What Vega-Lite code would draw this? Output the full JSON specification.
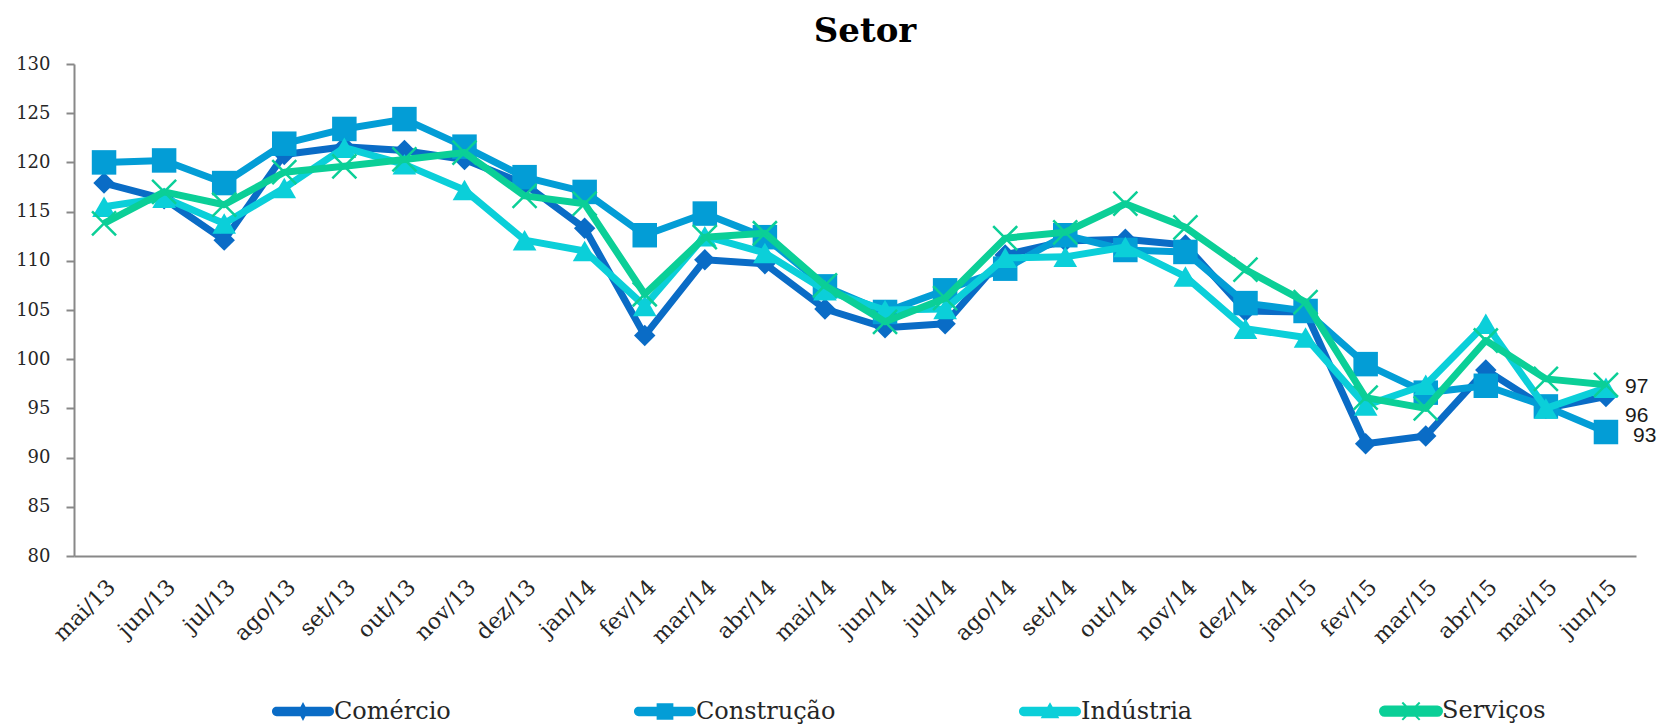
{
  "$schema": "https://vega.github.io/schema/vega-lite/v6.json",
  "width": 1562,
  "height": 492,
  "autosize": {"type": "none"},
  "padding": {"left": 74, "top": 64, "right": 25, "bottom": 169},
  "background": "white",
  "config": {"view": {"stroke": null}},
  "title": {"text": "Setor", "font": "DejaVu Serif", "fontSize": 34, "fontWeight": "bold", "color": "#000000", "anchor": "middle", "dx": 10, "offset": 6},
  "data": {"values": [
    {"mes": "mai/13", "setor": "Comércio", "valor": 117.9},
    {"mes": "jun/13", "setor": "Comércio", "valor": 116.3},
    {"mes": "jul/13", "setor": "Comércio", "valor": 112.1},
    {"mes": "ago/13", "setor": "Comércio", "valor": 120.8},
    {"mes": "set/13", "setor": "Comércio", "valor": 121.6},
    {"mes": "out/13", "setor": "Comércio", "valor": 121.2},
    {"mes": "nov/13", "setor": "Comércio", "valor": 120.3},
    {"mes": "dez/13", "setor": "Comércio", "valor": 117.8},
    {"mes": "jan/14", "setor": "Comércio", "valor": 113.3},
    {"mes": "fev/14", "setor": "Comércio", "valor": 102.4},
    {"mes": "mar/14", "setor": "Comércio", "valor": 110.1},
    {"mes": "abr/14", "setor": "Comércio", "valor": 109.7},
    {"mes": "mai/14", "setor": "Comércio", "valor": 105.1},
    {"mes": "jun/14", "setor": "Comércio", "valor": 103.2},
    {"mes": "jul/14", "setor": "Comércio", "valor": 103.6},
    {"mes": "ago/14", "setor": "Comércio", "valor": 110.6},
    {"mes": "set/14", "setor": "Comércio", "valor": 112.0},
    {"mes": "out/14", "setor": "Comércio", "valor": 112.2},
    {"mes": "nov/14", "setor": "Comércio", "valor": 111.6},
    {"mes": "dez/14", "setor": "Comércio", "valor": 104.9},
    {"mes": "jan/15", "setor": "Comércio", "valor": 104.8},
    {"mes": "fev/15", "setor": "Comércio", "valor": 91.4},
    {"mes": "mar/15", "setor": "Comércio", "valor": 92.2},
    {"mes": "abr/15", "setor": "Comércio", "valor": 98.9},
    {"mes": "mai/15", "setor": "Comércio", "valor": 95.0},
    {"mes": "jun/15", "setor": "Comércio", "valor": 96.2},
    {"mes": "mai/13", "setor": "Construção", "valor": 120.0},
    {"mes": "jun/13", "setor": "Construção", "valor": 120.2},
    {"mes": "jul/13", "setor": "Construção", "valor": 117.9},
    {"mes": "ago/13", "setor": "Construção", "valor": 121.9},
    {"mes": "set/13", "setor": "Construção", "valor": 123.4},
    {"mes": "out/13", "setor": "Construção", "valor": 124.4},
    {"mes": "nov/13", "setor": "Construção", "valor": 121.6},
    {"mes": "dez/13", "setor": "Construção", "valor": 118.5},
    {"mes": "jan/14", "setor": "Construção", "valor": 117.0},
    {"mes": "fev/14", "setor": "Construção", "valor": 112.6},
    {"mes": "mar/14", "setor": "Construção", "valor": 114.8},
    {"mes": "abr/14", "setor": "Construção", "valor": 112.4},
    {"mes": "mai/14", "setor": "Construção", "valor": 107.4},
    {"mes": "jun/14", "setor": "Construção", "valor": 104.8},
    {"mes": "jul/14", "setor": "Construção", "valor": 107.0},
    {"mes": "ago/14", "setor": "Construção", "valor": 109.2},
    {"mes": "set/14", "setor": "Construção", "valor": 112.6},
    {"mes": "out/14", "setor": "Construção", "valor": 111.1},
    {"mes": "nov/14", "setor": "Construção", "valor": 110.9},
    {"mes": "dez/14", "setor": "Construção", "valor": 105.7},
    {"mes": "jan/15", "setor": "Construção", "valor": 104.9},
    {"mes": "fev/15", "setor": "Construção", "valor": 99.5},
    {"mes": "mar/15", "setor": "Construção", "valor": 96.6},
    {"mes": "abr/15", "setor": "Construção", "valor": 97.3},
    {"mes": "mai/15", "setor": "Construção", "valor": 95.2},
    {"mes": "jun/15", "setor": "Construção", "valor": 92.6},
    {"mes": "mai/13", "setor": "Indústria", "valor": 115.5},
    {"mes": "jun/13", "setor": "Indústria", "valor": 116.4},
    {"mes": "jul/13", "setor": "Indústria", "valor": 113.8},
    {"mes": "ago/13", "setor": "Indústria", "valor": 117.4},
    {"mes": "set/13", "setor": "Indústria", "valor": 121.5},
    {"mes": "out/13", "setor": "Indústria", "valor": 119.8},
    {"mes": "nov/13", "setor": "Indústria", "valor": 117.2},
    {"mes": "dez/13", "setor": "Indústria", "valor": 112.1},
    {"mes": "jan/14", "setor": "Indústria", "valor": 111.0},
    {"mes": "fev/14", "setor": "Indústria", "valor": 105.4},
    {"mes": "mar/14", "setor": "Indústria", "valor": 112.5},
    {"mes": "abr/14", "setor": "Indústria", "valor": 110.8},
    {"mes": "mai/14", "setor": "Indústria", "valor": 107.0},
    {"mes": "jun/14", "setor": "Indústria", "valor": 105.0},
    {"mes": "jul/14", "setor": "Indústria", "valor": 105.1},
    {"mes": "ago/14", "setor": "Indústria", "valor": 110.3},
    {"mes": "set/14", "setor": "Indústria", "valor": 110.4},
    {"mes": "out/14", "setor": "Indústria", "valor": 111.4},
    {"mes": "nov/14", "setor": "Indústria", "valor": 108.4},
    {"mes": "dez/14", "setor": "Indústria", "valor": 103.1},
    {"mes": "jan/15", "setor": "Indústria", "valor": 102.2},
    {"mes": "fev/15", "setor": "Indústria", "valor": 95.3},
    {"mes": "mar/15", "setor": "Indústria", "valor": 97.4},
    {"mes": "abr/15", "setor": "Indústria", "valor": 103.6},
    {"mes": "mai/15", "setor": "Indústria", "valor": 95.0},
    {"mes": "jun/15", "setor": "Indústria", "valor": 97.1},
    {"mes": "mai/13", "setor": "Serviços", "valor": 113.8},
    {"mes": "jun/13", "setor": "Serviços", "valor": 117.0},
    {"mes": "jul/13", "setor": "Serviços", "valor": 115.7},
    {"mes": "ago/13", "setor": "Serviços", "valor": 119.0},
    {"mes": "set/13", "setor": "Serviços", "valor": 119.6},
    {"mes": "out/13", "setor": "Serviços", "valor": 120.3},
    {"mes": "nov/13", "setor": "Serviços", "valor": 121.0},
    {"mes": "dez/13", "setor": "Serviços", "valor": 116.6},
    {"mes": "jan/14", "setor": "Serviços", "valor": 115.8},
    {"mes": "fev/14", "setor": "Serviços", "valor": 106.6},
    {"mes": "mar/14", "setor": "Serviços", "valor": 112.4},
    {"mes": "abr/14", "setor": "Serviços", "valor": 112.8},
    {"mes": "mai/14", "setor": "Serviços", "valor": 107.5},
    {"mes": "jun/14", "setor": "Serviços", "valor": 103.8},
    {"mes": "jul/14", "setor": "Serviços", "valor": 106.2},
    {"mes": "ago/14", "setor": "Serviços", "valor": 112.3},
    {"mes": "set/14", "setor": "Serviços", "valor": 112.9},
    {"mes": "out/14", "setor": "Serviços", "valor": 115.8},
    {"mes": "nov/14", "setor": "Serviços", "valor": 113.4},
    {"mes": "dez/14", "setor": "Serviços", "valor": 109.1},
    {"mes": "jan/15", "setor": "Serviços", "valor": 105.8},
    {"mes": "fev/15", "setor": "Serviços", "valor": 96.1},
    {"mes": "mar/15", "setor": "Serviços", "valor": 95.0},
    {"mes": "abr/15", "setor": "Serviços", "valor": 101.9},
    {"mes": "mai/15", "setor": "Serviços", "valor": 98.0},
    {"mes": "jun/15", "setor": "Serviços", "valor": 97.4}
  ]},
  "encoding": {
    "x": {
      "field": "mes", "type": "ordinal", "sort": null,
      "scale": {"type": "point", "padding": 0.5},
      "axis": {"title": null, "ticks": false, "grid": false, "domainColor": "#888888", "domainWidth": 2,
        "labelAngle": -45, "labelAlign": "right", "labelBaseline": "top", "labelPadding": 20,
        "labelFont": "DejaVu Serif", "labelFontSize": 22, "labelColor": "#262626"}
    },
    "y": {
      "field": "valor", "type": "quantitative",
      "scale": {"domain": [80, 130], "nice": false, "zero": false},
      "axis": {"title": null, "grid": false, "values": [80, 85, 90, 95, 100, 105, 110, 115, 120, 125, 130],
        "domainColor": "#888888", "domainWidth": 2, "tickColor": "#888888", "tickWidth": 2, "tickSize": 8,
        "labelPadding": 16, "labelFont": "DejaVu Serif", "labelFontSize": 18, "labelColor": "#262626"}
    },
    "color": {
      "field": "setor", "type": "nominal",
      "scale": {"domain": ["Comércio", "Construção", "Indústria", "Serviços"], "range": ["#0a6cc6", "#039dd6", "#0bcfd9", "#0bcf97"]},
      "legend": {
        "orient": "none", "legendX": 199, "legendY": 635, "direction": "horizontal", "title": null,
        "padding": 0, "labelFont": "DejaVu Serif", "labelFontSize": 24, "labelColor": "#262626",
        "labelOffset": 19, "symbolOffset": 18, "columnPadding": 183, "symbolSize": 3844,
        "encode": {"symbols": {"update": {
          "shape": {"signal": "'M-0.85,-0.15H0.85A0.15,0.15 0 0 1 0.85,0.15H-0.85A0.15,0.15 0 0 1 -0.85,-0.15Z' + (datum.value === 'Comércio' ? 'M0,-0.31L0.16,0L0,0.31L-0.16,0Z' : datum.value === 'Construção' ? 'M-0.27,-0.27H0.27V0.27H-0.27Z' : datum.value === 'Indústria' ? 'M0,-0.3L0.3,0.22L-0.3,0.22Z' : 'M-0.28,-0.28L0.28,0.28M-0.28,0.28L0.28,-0.28')"},
          "fill": {"signal": "scale('color', datum.value)"},
          "stroke": {"signal": "scale('color', datum.value)"},
          "strokeWidth": {"signal": "datum.value === 'Serviços' ? 2 : 0"},
          "opacity": {"value": 1},
          "fillOpacity": {"value": 1},
          "strokeOpacity": {"value": 1}
        }}}
      }
    }
  },
  "layer": [
    {"transform": [{"filter": "datum.setor === 'Comércio'"}], "mark": {"type": "line", "strokeWidth": 7, "strokeJoin": "round"}},
    {"transform": [{"filter": "datum.setor === 'Comércio'"}], "mark": {"type": "point", "shape": "diamond", "filled": true, "size": 460, "opacity": 1}},
    {"transform": [{"filter": "datum.setor === 'Construção'"}], "mark": {"type": "line", "strokeWidth": 7, "strokeJoin": "round"}},
    {"transform": [{"filter": "datum.setor === 'Construção'"}], "mark": {"type": "point", "shape": "square", "filled": true, "size": 600, "opacity": 1}},
    {"transform": [{"filter": "datum.setor === 'Indústria'"}], "mark": {"type": "line", "strokeWidth": 7, "strokeJoin": "round"}},
    {"transform": [{"filter": "datum.setor === 'Indústria'"}], "mark": {"type": "point", "shape": "triangle-up", "filled": true, "size": 560, "opacity": 1}},
    {"transform": [{"filter": "datum.setor === 'Serviços'"}], "mark": {"type": "line", "strokeWidth": 7, "strokeJoin": "round"}},
    {"transform": [{"filter": "datum.setor === 'Serviços'"}], "mark": {"type": "point", "shape": "M-1,-1L1,1M-1,1L1,-1", "filled": false, "size": 576, "strokeWidth": 2.5, "opacity": 1}},
    {"transform": [{"filter": "datum.mes === 'jun/15' && datum.setor === 'Serviços'"}],
     "mark": {"type": "text", "align": "left", "baseline": "middle", "dx": 19, "dy": 2, "font": "Liberation Sans", "fontSize": 21},
     "encoding": {"text": {"field": "valor", "format": ".0f"}, "color": {"value": "#1a1a1a"}}},
    {"transform": [{"filter": "datum.mes === 'jun/15' && datum.setor === 'Comércio'"}],
     "mark": {"type": "text", "align": "left", "baseline": "middle", "dx": 19, "dy": 19, "font": "Liberation Sans", "fontSize": 21},
     "encoding": {"text": {"field": "valor", "format": ".0f"}, "color": {"value": "#1a1a1a"}}},
    {"transform": [{"filter": "datum.mes === 'jun/15' && datum.setor === 'Construção'"}],
     "mark": {"type": "text", "align": "left", "baseline": "middle", "dx": 27, "dy": 4, "font": "Liberation Sans", "fontSize": 21},
     "encoding": {"text": {"field": "valor", "format": ".0f"}, "color": {"value": "#1a1a1a"}}}
  ]
}
